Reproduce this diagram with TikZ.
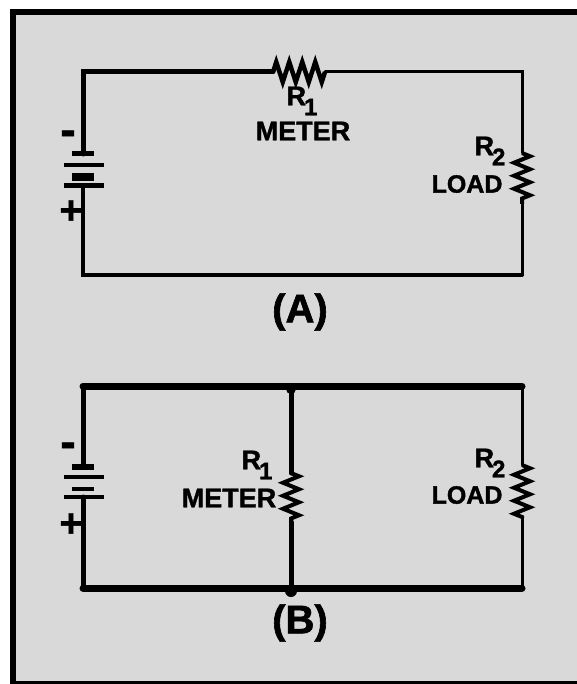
\documentclass[tikz,border=0pt]{standalone}
\usepackage{fontspec}
\setmainfont{Liberation Sans}
\usetikzlibrary{decorations.pathmorphing}
\newcommand{\rlabel}[1]{\fontsize{27}{27}\selectfont R\kern-2pt\smash{\raisebox{-10pt}{\fontsize{24}{24}\selectfont #1}}}
\tikzset{
    wire/.style={line width=#1, line cap=round, line join=miter},
    wire/.default=3pt,
    plate/.style={line width=#1},
    resistor/.style={line width=4pt, decorate, decoration={zigzag, segment length=13pt, amplitude=#1}},
    tag/.style={inner sep=0pt, font=\bfseries\addfontfeature{FakeBold=1.5}\fontsize{27}{27}\selectfont},
    loadtag/.style={inner sep=0pt, font=\bfseries\addfontfeature{FakeBold=1.5}\fontsize{25}{25}\selectfont},
    sign/.style={inner sep=0pt, font=\bfseries\addfontfeature{FakeBold=1}\fontsize{#1}{#1}\selectfont},
    title/.style={inner sep=0pt, font=\bfseries\addfontfeature{FakeBold=1.5}\fontsize{40}{40}\selectfont}
}
\begin{document}
\begin{tikzpicture}[x=1pt,y=-1pt]
        \useasboundingbox (0,0) rectangle (577,684);
        % frame
        \fill[black] (10,9) rectangle (577,684);
        \fill[black!15] (16,15) rectangle (577,681);
        % point
        \coordinate (atl) at (83,72);
        \coordinate (atr) at (522,72);
        \coordinate (abl) at (83,275);
        \coordinate (abr) at (522,275);
        \coordinate (ara) at (273,72);
        \coordinate (arb) at (325,72);
        \coordinate (arc) at (522,153);
        \coordinate (ard) at (522,204);
        \coordinate (abata) at (83,154);
        \coordinate (abatb) at (83,186);
        \coordinate (btl) at (83,386);
        \coordinate (btr) at (522,386);
        \coordinate (bbl) at (83,588);
        \coordinate (bbr) at (522,588);
        \coordinate (btm) at (291,386);
        \coordinate (bbm) at (291,588);
        \coordinate (bra) at (291,473);
        \coordinate (brb) at (291,522);
        \coordinate (brc) at (522,465);
        \coordinate (brd) at (522,518);
        \coordinate (bbata) at (83,467);
        \coordinate (bbatb) at (83,497);
        % circuit a
        \draw[wire=5pt] (ara) -- (atl) -- (abata);
        \draw[wire=4pt] (abatb) -- (abl) -- (abr);
        \draw[wire=3pt] (abr) -- (ard);
        \draw[wire=3pt] (arc) -- (atr) -- (arb);
        \draw[resistor=10pt, line width=4.5pt] (ara) -- (arb);
        \draw[resistor=8pt] (arc) -- (ard);
        % battery a
        \draw[plate=5pt] (72,154) -- (94,154);
        \draw[plate=4pt] (64,165) -- (104,165);
        \draw[plate=8pt] (72,177) -- (94,177);
        \draw[plate=5pt] (64,186) -- (104,186);
        % circuit b
        \draw[wire=7pt] (btl) -- (btr);
        \draw[wire=7pt] (bbl) -- (bbr);
        \draw[wire=5pt] (btl) -- (bbata);
        \draw[wire=5pt] (bbatb) -- (bbl);
        \draw[wire=5pt] (btm) -- (bra);
        \draw[wire=5pt] (brb) -- (bbm);
        \draw[wire=3pt] (btr) -- (brc);
        \draw[wire=3pt] (brd) -- (bbr);
        \draw[resistor=8pt] (bra) -- (brb);
        \draw[resistor=8pt] (brc) -- (brd);
        \fill (btm) ++(0,3) circle (5pt);
        \fill (bbm) ++(0,3) circle (6pt);
        % battery b
        \draw[plate=6pt] (72,467) -- (94,467);
        \draw[plate=4pt] (64,477) -- (104,477);
        \draw[plate=4pt] (72,489) -- (94,489);
        \draw[plate=4pt] (64,497) -- (104,497);
        % node
        \node[sign=46] (aminus) at (68,138) {-};
        \node[sign=40] (aplus) at (71,212) {+};
        \node[sign=46] (bminus) at (68,450) {-};
        \node[sign=40] (bplus) at (71,525) {+};
        \node[tag] (ronea) at (302,96) {\rlabel{1}};
        \node[tag] (metera) at (303,131) {METER};
        \node[tag] (rtwoa) at (490,146) {\rlabel{2}};
        \node[loadtag] (loada) at (467,184) {LOAD};
        \node[tag] (roneb) at (257,460) {\rlabel{1}};
        \node[tag] (meterb) at (229,498) {METER};
        \node[tag] (rtwob) at (490,458) {\rlabel{2}};
        \node[loadtag] (loadb) at (467,495) {LOAD};
        \node[title] (capa) at (300,312) {(A)};
        \node[title] (capb) at (300,623) {(B)};
    \end{tikzpicture}
\end{document}
